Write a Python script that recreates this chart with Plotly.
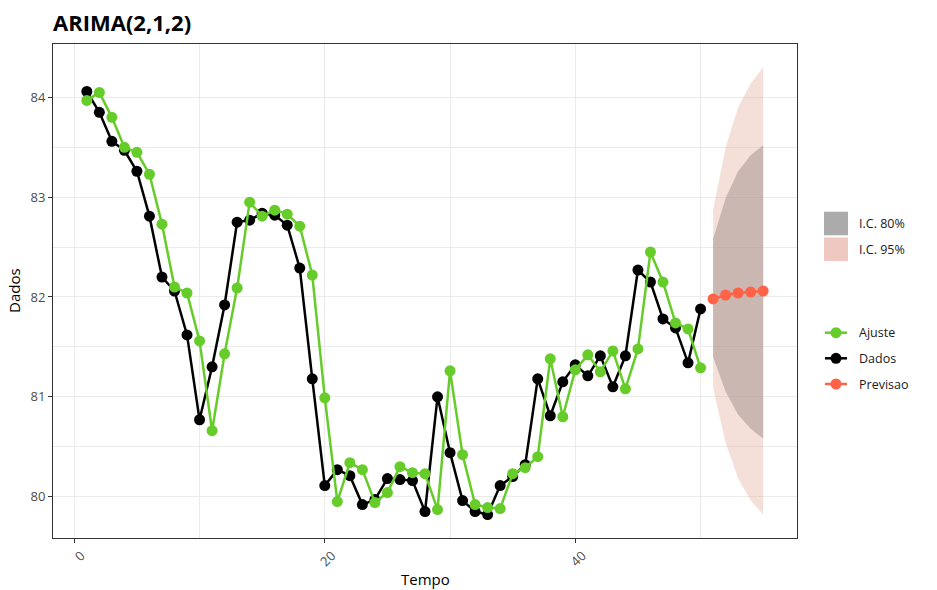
import plotly.graph_objects as go

tempo = list(range(1, 51))
dados = [84.06, 83.85, 83.56, 83.47, 83.26, 82.81, 82.20, 82.06, 81.62, 80.77,
         81.30, 81.92, 82.75, 82.77, 82.84, 82.82, 82.72, 82.29, 81.18, 80.11,
         80.27, 80.21, 79.92, 79.97, 80.18, 80.17, 80.16, 79.85, 81.00, 80.44,
         79.96, 79.85, 79.82, 80.11, 80.20, 80.32, 81.18, 80.81, 81.15, 81.32,
         81.21, 81.41, 81.10, 81.41, 82.27, 82.15, 81.78, 81.69, 81.34, 81.88]
ajuste = [83.97, 84.05, 83.80, 83.50, 83.45, 83.23, 82.73, 82.10, 82.04, 81.56,
          80.66, 81.43, 82.09, 82.95, 82.81, 82.87, 82.83, 82.71, 82.22, 80.99,
          79.95, 80.34, 80.27, 79.94, 80.04, 80.30, 80.24, 80.23, 79.87, 81.26,
          80.42, 79.92, 79.89, 79.88, 80.23, 80.29, 80.40, 81.38, 80.80, 81.27,
          81.42, 81.25, 81.46, 81.08, 81.48, 82.45, 82.15, 81.74, 81.68, 81.29]

tempo_prev = [51, 52, 53, 54, 55]
previsao = [81.98, 82.02, 82.04, 82.05, 82.06]
lo80 = [81.40, 81.05, 80.82, 80.68, 80.58]
hi80 = [82.58, 82.99, 83.26, 83.42, 83.52]
lo95 = [81.09, 80.54, 80.18, 79.96, 79.82]
hi95 = [82.87, 83.50, 83.90, 84.14, 84.30]

x_ticks = [0, 20, 40]
y_ticks = [80, 81, 82, 83, 84]

VERDE = '#66CC29'
PRETO = '#000000'
VERMELHO = '#FF6347'

fig = go.Figure()

# intervalos de confianca
fig.add_trace(go.Scatter(x=tempo_prev + tempo_prev[::-1], y=hi95 + lo95[::-1],
                         fill='toself', fillcolor='rgba(232,180,165,0.42)',
                         line=dict(width=0), mode='lines', hoverinfo='skip', showlegend=False))
fig.add_trace(go.Scatter(x=tempo_prev + tempo_prev[::-1], y=hi80 + lo80[::-1],
                         fill='toself', fillcolor='rgba(150,132,130,0.45)',
                         line=dict(width=0), mode='lines', hoverinfo='skip', showlegend=False))

fig.add_trace(go.Scatter(x=tempo, y=dados, mode='lines+markers', name='Dados',
                         line=dict(color=PRETO, width=2.5), marker=dict(color=PRETO, size=11),
                         showlegend=False))
fig.add_trace(go.Scatter(x=tempo, y=ajuste, mode='lines+markers', name='Ajuste',
                         line=dict(color=VERDE, width=2.5), marker=dict(color=VERDE, size=11),
                         showlegend=False))
fig.add_trace(go.Scatter(x=tempo_prev, y=previsao, mode='lines+markers', name='Previsao',
                         line=dict(color=VERMELHO, width=2.5), marker=dict(color=VERMELHO, size=11),
                         showlegend=False))

# legenda manual (estilo ggplot)
H = 494.0
def ypap(py):
    return (538 - py) / H

shapes = []
annots = []
for py, cor, txt in [(223.5, '#ABABAB', 'I.C. 80%'), (249.2, '#EFC9C1', 'I.C. 95%')]:
    shapes.append(dict(type='rect', xref='paper', yref='paper', xsizemode='pixel', ysizemode='pixel',
                       xanchor=1, yanchor=ypap(py), x0=27, x1=51, y0=-11.8, y1=11.8,
                       fillcolor=cor, line=dict(width=0)))
    annots.append(dict(text=txt, xref='paper', yref='paper', x=1, y=ypap(py), xshift=60,
                       xanchor='left', yanchor='middle', showarrow=False,
                       font=dict(size=12.5, color='#1A1A1A')))
for py, cor, txt in [(332.7, VERDE, 'Ajuste'), (358.3, PRETO, 'Dados'), (384.0, VERMELHO, 'Previsao')]:
    shapes.append(dict(type='line', xref='paper', yref='paper', xsizemode='pixel', ysizemode='pixel',
                       xanchor=1, yanchor=ypap(py), x0=28, x1=50, y0=0, y1=0,
                       line=dict(color=cor, width=2.5)))
    shapes.append(dict(type='circle', xref='paper', yref='paper', xsizemode='pixel', ysizemode='pixel',
                       xanchor=1, yanchor=ypap(py), x0=33.5, x1=44.5, y0=-5.5, y1=5.5,
                       fillcolor=cor, line=dict(width=0)))
    annots.append(dict(text=txt, xref='paper', yref='paper', x=1, y=ypap(py), xshift=60,
                       xanchor='left', yanchor='middle', showarrow=False,
                       font=dict(size=12.5, color='#1A1A1A')))

# titulos dos eixos
annots.append(dict(text='Tempo', xref='paper', yref='paper', x=0.5, y=0, yshift=-41,
                   xanchor='center', yanchor='middle', showarrow=False,
                   font=dict(size=15, color='#000000')))
annots.append(dict(text='Dados', xref='paper', yref='paper', x=0, y=0.5, xshift=-39,
                   xanchor='center', yanchor='middle', textangle=-90, showarrow=False,
                   font=dict(size=15, color='#000000')))

eixo = dict(showgrid=True, gridcolor='#EBEBEB', gridwidth=1.1, zeroline=False,
            showline=True, linecolor='#333333', linewidth=1, mirror=True,
            ticks='outside', ticklen=4, tickcolor='#333333', tickwidth=1,
            tickfont=dict(size=13, color='#4D4D4D'))

fig.update_layout(
    width=937, height=590,
    margin=dict(l=53, r=140, t=44, b=52),
    paper_bgcolor='white', plot_bgcolor='white',
    font=dict(family='Open Sans, Noto Sans, sans-serif'),
    title=dict(text='<b>ARIMA(2,1,2)</b>', xref='paper', x=0, xanchor='left',
               yref='container', y=1 - 23 / 590, yanchor='middle',
               font=dict(size=22, color='#000000')),
    xaxis=dict(range=[-1.7, 57.7], tickvals=x_ticks, tickangle=-45, ticklabelshift=7,
               minor=dict(tickvals=[10, 30, 50], showgrid=True, gridcolor='#EBEBEB',
                          gridwidth=0.55, ticks=''), **eixo),
    yaxis=dict(range=[79.585, 84.535], tickvals=y_ticks,
               minor=dict(tickvals=[80.5, 81.5, 82.5, 83.5], showgrid=True, gridcolor='#EBEBEB',
                          gridwidth=0.55, ticks=''), **eixo),
    shapes=shapes,
    annotations=annots,
    showlegend=False,
)

# tira a margem padrao da pagina
fig.write_html("out.html", config={'displayModeBar': False},
               post_script="document.body.style.margin='0';")
